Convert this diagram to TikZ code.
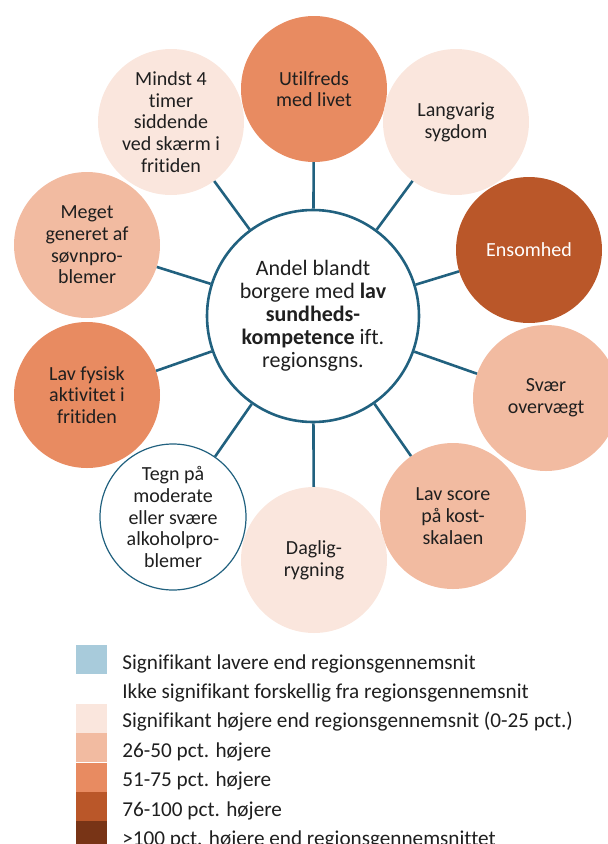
\documentclass[tikz,border=0pt]{standalone}
\usepackage{fontspec}
\setmainfont{Carlito}[Ligatures=NoCommon]
\usepackage{tikz}
\usetikzlibrary{positioning}
\definecolor{lowblue}{RGB}{168,203,219}
\definecolor{lvlone}{RGB}{250,230,221}
\definecolor{lvltwo}{RGB}{242,187,161}
\definecolor{lvlthree}{RGB}{232,139,97}
\definecolor{lvlfour}{RGB}{186,87,41}
\definecolor{lvlfive}{RGB}{120,52,22}
\definecolor{spokeblue}{RGB}{33,97,127}
\tikzset{
  hubcircle/.style={circle,draw=spokeblue,line width=2.6pt,fill=white,minimum size=212pt,
    inner sep=0pt,align=center,text=black!88,font=\fontsize{22}{23}\selectfont},
  factorcircle/.style={circle,minimum size=146pt,inner sep=0pt,align=center,
    text=black!88,font=\fontsize{20}{21.7}\selectfont},
  spoke/.style={draw=spokeblue,line width=2.6pt},
  legkey/.style={minimum width=31pt,minimum height=29pt,inner sep=0pt},
  legtext/.style={font=\fontsize{21.2}{29}\selectfont,text=black!88,inner sep=0pt,
    text height=14pt,text depth=5pt}
}
\begin{document}
\begin{tikzpicture}[x=1pt,y=-1pt]
  \useasboundingbox (0,0) rectangle (608,844);
  % the hub and the ten factors around it
  \node[hubcircle] (hub) at (313,316) {Andel blandt\\borgere med \textbf{lav}\\\textbf{sundheds-}\\\textbf{kompetence} ift.\\regionsgns.};
  \node[factorcircle,fill=lvlthree] (utilfreds) at (314,89) {Utilfreds\\med livet};
  \node[factorcircle,fill=lvlone] (langvarig) at (456,122) {Langvarig\\sygdom};
  \node[factorcircle,fill=lvlfour,text=white] (ensomhed) at (529,250) {Ensomhed};
  \node[factorcircle,fill=lvltwo] (overvaegt) at (546,398) {Svær\\overvægt};
  \node[factorcircle,fill=lvltwo] (kost) at (453,516) {Lav score\\på kost-\\skalaen};
  \node[factorcircle,fill=lvlone] (rygning) at (314,560) {Daglig-\\rygning};
  \node[factorcircle,fill=white,draw=spokeblue,line width=1.2pt] (alkohol) at (173,517) {Tegn på\\moderate\\eller svære\\alkoholpro-\\blemer};
  \node[factorcircle,fill=lvlthree] (fysisk) at (87,395) {Lav fysisk\\aktivitet i\\fritiden};
  \node[factorcircle,fill=lvltwo] (soevn) at (87,245) {Meget\\generet af\\søvnpro-\\blemer};
  \node[factorcircle,fill=lvlone] (skaerm) at (171,122) {Mindst 4\\timer\\siddende\\ved skærm i\\fritiden};
  \draw[spoke] (hub) -- (utilfreds);
  \draw[spoke] (hub) -- (langvarig);
  \draw[spoke] (hub) -- (ensomhed);
  \draw[spoke] (hub) -- (overvaegt);
  \draw[spoke] (hub) -- (kost);
  \draw[spoke] (hub) -- (rygning);
  \draw[spoke] (hub) -- (alkohol);
  \draw[spoke] (hub) -- (fysisk);
  \draw[spoke] (hub) -- (soevn);
  \draw[spoke] (hub) -- (skaerm);
  % legend
  \node[legkey,fill=lowblue] (keylow) at (91.5,659.5) {};
  \node[legkey,below=0pt of keylow] (keysame) {};
  \node[legkey,fill=lvlone,below=0pt of keysame] (keyone) {};
  \node[legkey,fill=lvltwo,below=0pt of keyone] (keytwo) {};
  \node[legkey,fill=lvlthree,below=0pt of keytwo] (keythree) {};
  \node[legkey,fill=lvlfour,below=0pt of keythree] (keyfour) {};
  \node[legkey,fill=lvlfive,below=0pt of keyfour] (keyfive) {};
  \node[legtext,right=15pt of keylow,yshift=-5pt] {Signifikant lavere end regionsgennemsnit};
  \node[legtext,right=15pt of keysame,yshift=-5pt] {Ikke signifikant forskellig fra regionsgennemsnit};
  \node[legtext,right=15pt of keyone,yshift=-5pt] {Signifikant højere end regionsgennemsnit (0-25 pct.)};
  \node[legtext,right=15pt of keytwo,yshift=-5pt] {26-50 pct. højere};
  \node[legtext,right=15pt of keythree,yshift=-5pt] {51-75 pct. højere};
  \node[legtext,right=15pt of keyfour,yshift=-5pt] {76-100 pct. højere};
  \node[legtext,right=15pt of keyfive,yshift=-5pt] {>100 pct. højere end regionsgennemsnittet};
\end{tikzpicture}
\end{document}
